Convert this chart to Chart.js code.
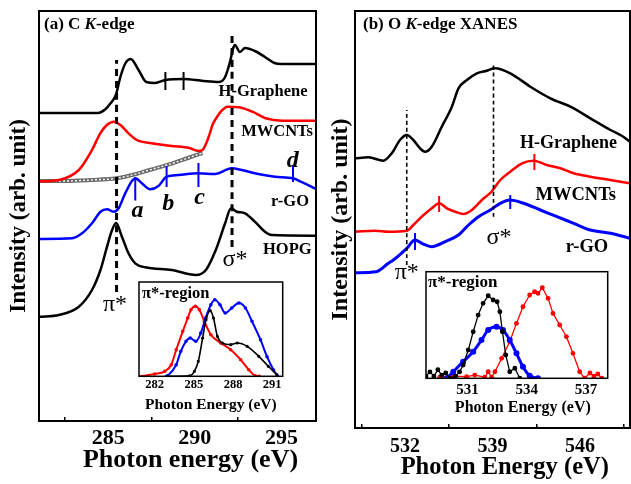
<!DOCTYPE html>
<html>
<head>
<meta charset="utf-8">
<script src="https://cdn.jsdelivr.net/npm/chart.js@4.4.1/dist/chart.umd.min.js"></script>
<style>
  html, body { margin: 0; padding: 0; background: #fff; }
  #wrap { position: relative; width: 631px; height: 484px; overflow: hidden; }
  canvas { position: absolute; }
</style>
</head>
<body>
<div id="wrap">
  <canvas id="chartA" width="322" height="484" style="left:0px;top:0px"></canvas>
  <canvas id="chartB" width="309" height="484" style="left:322px;top:0px"></canvas>
  <canvas id="insetA" width="160" height="140" style="left:130px;top:276px"></canvas>
  <canvas id="insetB" width="195" height="160" style="left:420px;top:262px"></canvas>
</div>
<script>
const SERIF = "'Liberation Serif', 'Times New Roman', serif";
Chart.defaults.font.family = SERIF;
Chart.defaults.color = "#000";

// ---------- (a) C K-edge ----------
const cTicks = [285, 290, 295];
const cMinorTicks = [282.5, 287.5, 292.5];
const cHGrapheneE = [281, 284.4, 284.85, 285.1, 285.44, 285.7, 286.0, 286.3, 286.75, 287.2, 287.7, 288.3, 289.35, 290.5, 291.4, 291.75, 292.03, 292.22, 292.32, 292.6, 292.9, 293.47, 294.05, 294.6, 295.0, 297];
const cHGrapheneI = [30.8, 30.8, 31.2, 31.7, 32.6, 34.4, 35.8, 36.2, 35.1, 33.9, 33.8, 34.1, 34.2, 34.0, 33.9, 34.4, 35.9, 37.3, 37.6, 36.9, 37.3, 37.0, 36.4, 35.8, 35.7, 35.7];
const cMWCNTE = [281, 282.15, 283.3, 284.06, 284.54, 284.92, 285.31, 285.7, 286.17, 286.65, 287.51, 288.66, 289.68, 290.2, 290.44, 290.8, 291.02, 291.36, 291.5, 291.88, 292.55, 293.32, 294.09, 295.04, 297];
const cMWCNTI = [23.95, 24.1, 25.1, 27.1, 28.77, 29.6, 29.93, 29.6, 28.77, 28.1, 27.77, 27.5, 27.3, 27.0, 27.1, 28.4, 29.6, 30.6, 30.93, 31.43, 31.37, 30.93, 30.27, 30.03, 30.03];
const cBackE = [281, 282.5, 284, 285.47, 286.5, 287.38, 288.72, 289.6, 290.44];
const cBackI = [24.0, 24.0, 24.1, 24.27, 24.65, 25.1, 25.77, 26.3, 26.8];
const cRGOE = [281, 282.91, 283.49, 284.06, 284.55, 284.93, 285.31, 285.6, 285.98, 286.56, 286.94, 287.42, 287.9, 288.37, 289.05, 290.21, 291.17, 292.13, 292.71, 293.66, 294.62, 295.67, 296.25, 297];
const cRGOI = [18.2, 18.27, 18.77, 19.77, 20.93, 21.17, 20.93, 21.27, 22.77, 24.27, 23.77, 23.17, 23.5, 24.43, 24.6, 24.77, 24.7, 25.27, 25.1, 24.7, 24.43, 24.27, 23.83, 23.2];
const cHOPGE = [281, 282.15, 283.3, 284.06, 284.55, 284.93, 285.2, 285.45, 285.79, 286.17, 286.56, 287.13, 288.66, 290.06, 290.64, 291.21, 291.75, 292.09, 292.42, 292.9, 293.47, 294.05, 294.43, 297];
const cHOPGI = [10.43, 10.6, 11.43, 13.1, 15.1, 17.43, 19.0, 19.8, 18.43, 16.77, 15.77, 15.37, 15.1, 14.6, 15.1, 17.1, 19.77, 21.27, 20.93, 20.77, 19.93, 18.93, 18.6, 18.53];
const cHGrapheneMarkE = [288.3, 289.35];
const cHGrapheneMarkI = [34.0, 34.0];
const cRGOMarkE = [286.56, 288.37, 290.21, 295.67];
const cRGOMarkI = [23.2, 24.45, 24.6, 24.7];
const cPiStarE = [285.48, 285.48];
const cPiStarI = [12.9, 36.1];
const cSigmaStarE = [292.15, 292.15];
const cSigmaStarI = [17.4, 38.6];

// inset (a): pi*-region
const cInsetTicks = [282, 285, 288, 291];
const cInRedE = [280.8, 282, 282.77, 283.27, 283.65, 284.15, 284.53, 284.78, 285.12, 285.42, 285.8, 286.3, 287.06, 287.82, 288.58, 289.2, 289.71, 290.0];
const cInRedI = [0, 0.024, 0.053, 0.123, 0.282, 0.477, 0.618, 0.706, 0.742, 0.706, 0.583, 0.441, 0.353, 0.282, 0.176, 0.07, 0.006, 0];
const cInBlueE = [282.9, 283.0, 283.65, 284.0, 284.4, 284.72, 285.15, 285.53, 285.9, 286.3, 286.6, 287.0, 287.4, 287.9, 288.45, 288.95, 289.45, 290.1, 290.6, 291.1, 291.4];
const cInBlueI = [0, 0.006, 0.123, 0.265, 0.371, 0.406, 0.371, 0.459, 0.618, 0.759, 0.812, 0.759, 0.671, 0.724, 0.777, 0.724, 0.583, 0.388, 0.208, 0.067, 0.003];
const cInBlackE = [283.0, 284.66, 285.04, 285.34, 285.67, 285.93, 286.25, 286.5, 286.8, 287.18, 287.82, 288.32, 289.08, 289.97, 290.7, 291.35];
const cInBlackI = [0, 0.005, 0.053, 0.159, 0.406, 0.6, 0.696, 0.618, 0.424, 0.353, 0.335, 0.353, 0.318, 0.212, 0.106, 0.017];

// ---------- (b) O K-edge XANES ----------
const oTicks = [532, 539, 546];
const oMinorTicks = [528.5, 535.5, 542.5, 549.5];
const oHGrapheneE = [528, 529.07, 530.27, 530.94, 531.6, 532.14, 532.67, 533.2, 533.6, 534.14, 534.94, 535.75, 536.28, 536.95, 537.75, 538.55, 539.2, 540.42, 542.03, 543.63, 545.23, 546.83, 548.44, 549.37, 550];
const oHGrapheneI = [26.97, 27.07, 26.73, 27.47, 28.8, 29.3, 28.8, 27.97, 27.63, 28.13, 30.13, 32.13, 33.97, 34.8, 35.47, 35.73, 35.97, 35.47, 34.13, 32.97, 32.13, 30.97, 29.8, 29.2, 28.63];
const oMWCNTE = [528, 529.6, 530.67, 532.14, 532.67, 533.34, 534.14, 534.73, 535.35, 536.01, 536.68, 537.35, 538.15, 538.9, 539.62, 540.42, 541.36, 542.29, 543.36, 544.43, 545.5, 546.83, 548.44, 550];
const oMWCNTI = [19.63, 19.73, 19.63, 19.73, 20.3, 21.13, 21.97, 22.47, 21.97, 21.63, 21.4, 21.8, 22.8, 23.6, 24.8, 25.63, 26.47, 26.73, 26.3, 25.97, 25.47, 25.13, 24.8, 24.47];
const oRGOE = [528, 529.7, 530.67, 531.07, 532.14, 532.8, 533.34, 534.14, 535.21, 536.28, 537.08, 537.88, 538.82, 539.62, 540.42, 541.49, 542.83, 544.16, 545.5, 546.83, 548.44, 550];
const oRGOI = [15.53, 15.63, 16.47, 16.8, 17.97, 18.8, 18.47, 18.13, 18.63, 19.3, 20.3, 21.13, 21.8, 22.47, 22.8, 22.47, 21.8, 21.13, 20.47, 19.8, 19.47, 18.97];
const oMWCNTMarkE = [534.73, 542.35];
const oMWCNTMarkI = [22.4, 26.6];
const oRGOMarkE = [532.8, 540.42];
const oRGOMarkI = [18.65, 22.6];
const oPiStarE = [532.14, 532.14];
const oPiStarI = [16.3, 31.8];
const oSigmaStarE = [539.08, 539.08];
const oSigmaStarI = [21.13, 36.47];

// inset (b): pi*-region
const oInsetTicks = [531, 534, 537];
const oInBlackE = [528.9, 529.1, 529.3, 529.5, 529.7, 529.9, 530.1, 530.4, 530.6, 530.78, 531.04, 531.29, 531.54, 531.79, 532.05, 532.3, 532.5, 532.64, 532.77, 532.94, 533.14, 533.4, 533.65];
const oInBlackI = [0.02, 0.06, 0.02, 0.08, 0.03, 0.05, 0, 0.02, 0.06, 0.125, 0.265, 0.437, 0.593, 0.703, 0.774, 0.734, 0.718, 0.624, 0.437, 0.218, 0.062, 0.094, 0];
const oInBlueE = [529.95, 530.28, 530.78, 531.29, 531.71, 532.05, 532.47, 532.8, 533.14, 533.48, 533.81, 534.15, 534.57];
const oInBlueI = [0, 0.062, 0.156, 0.25, 0.359, 0.453, 0.484, 0.453, 0.359, 0.234, 0.109, 0.024, 0];
const oInRedE = [529.6, 530.3, 530.96, 531.37, 531.88, 532.05, 532.22, 532.39, 532.73, 533.14, 533.48, 533.81, 534.15, 534.4, 534.57, 534.79, 535.08, 535.33, 535.67, 536.01, 536.34, 536.68, 536.93, 537.2, 537.4, 537.6, 537.8];
const oInRedI = [0.01, 0.02, 0.015, 0.03, 0.01, 0.062, 0.01, 0.062, 0.187, 0.343, 0.515, 0.671, 0.781, 0.812, 0.797, 0.849, 0.75, 0.609, 0.5, 0.39, 0.234, 0.062, 0, 0.05, 0.02, 0.04, 0];

// ---------- helpers ----------
const pts = (xs, ys) => xs.map((x, i) => ({ x: x, y: ys[i] }));

function curve(xs, ys, color, width, extra) {
  return Object.assign({
    data: pts(xs, ys),
    borderColor: color,
    backgroundColor: color,
    borderWidth: width,
    pointRadius: 0,
    cubicInterpolationMode: "monotone",
    borderJoinStyle: "round",
    fill: false,
  }, extra || {});
}

function marks(xs, ys, color, radius) {
  return {
    data: pts(xs, ys),
    showLine: false,
    pointStyle: "line",
    pointRotation: 90,
    pointRadius: radius,
    pointBorderColor: color,
    pointBorderWidth: 2,
  };
}

// frame round the plot area (and white fill for the insets)
function frameLayer(width, fill) {
  return {
    id: "frameLayer",
    beforeDatasetsDraw(chart) {
      if (!fill) return;
      const a = chart.chartArea;
      chart.ctx.save();
      chart.ctx.fillStyle = "#fff";
      chart.ctx.fillRect(a.left, a.top, a.right - a.left, a.bottom - a.top);
      chart.ctx.restore();
    },
    afterDraw(chart) {
      const a = chart.chartArea;
      const ctx = chart.ctx;
      ctx.save();
      ctx.strokeStyle = "#000";
      ctx.lineWidth = width;
      ctx.strokeRect(a.left, a.top, a.right - a.left, a.bottom - a.top);
      ctx.restore();
    },
  };
}

// labels placed in data units
function textLayer(items) {
  return {
    id: "textLayer",
    afterDatasetsDraw(chart) {
      const ctx = chart.ctx;
      const sx = chart.scales.x, sy = chart.scales.y;
      items.forEach((item) => {
        const px = sx.getPixelForValue(item.x);
        const py = sy.getPixelForValue(item.y);
        ctx.save();
        ctx.fillStyle = "#000";
        ctx.textBaseline = "middle";
        if (item.parts) {
          ctx.textAlign = "left";
          let cx = px;
          item.parts.forEach(([text, font]) => {
            ctx.font = font + " " + SERIF;
            ctx.fillText(text, cx, py);
            cx += ctx.measureText(text).width;
          });
        } else {
          ctx.textAlign = item.align || "center";
          ctx.font = item.font + " " + SERIF;
          ctx.fillText(item.text, px, py);
        }
        ctx.restore();
      });
    },
  };
}

// minor ticks are drawn inward (negative tick length) and carry no label
function xAxis(min, max, ticks, minor, tickFont, tickPad, title, titleFont, titlePad, height) {
  const inward = minor.length ? 4 : 0;
  return {
    type: "linear",
    min: min,
    max: max,
    grid: {
      display: minor.length > 0,
      drawOnChartArea: false,
      drawTicks: minor.length > 0,
      tickLength: -inward,
      lineWidth: 1.5,
      color: (ctx) => (ctx.tick && minor.includes(ctx.tick.value) ? "#000" : "rgba(0,0,0,0)"),
    },
    border: { display: false },
    afterBuildTicks: (scale) => {
      scale.ticks = ticks.concat(minor).sort((p, q) => p - q).map((v) => ({ value: v }));
    },
    afterFit: (scale) => {
      scale.height = height;
      scale.paddingLeft = 0;
      scale.paddingRight = 0;
    },
    ticks: {
      font: { size: tickFont, weight: "bold" },
      padding: tickPad + inward,
      maxRotation: 0,
      autoSkip: false,
      callback: (v) => (ticks.includes(v) ? String(v) : ""),
    },
    title: { display: true, text: title, font: { size: titleFont, weight: "bold" }, padding: { top: 0, bottom: titlePad } },
  };
}

function yAxis(max, width, title, titleFont, titlePad) {
  return {
    type: "linear",
    min: 0,
    max: max,
    grid: { display: false, drawTicks: false },
    border: { display: false },
    ticks: { display: false },
    afterFit: (scale) => { scale.width = width; },
    title: { display: !!title, text: title, font: { size: titleFont, weight: "bold" }, padding: { top: titlePad, bottom: 0 } },
  };
}

const baseOptions = {
  responsive: false,
  animation: false,
  devicePixelRatio: 1,
  plugins: { legend: { display: false }, tooltip: { enabled: false } },
};

// ---------- chart (a) ----------
new Chart(document.getElementById("chartA"), {
  type: "line",
  data: {
    datasets: [
      curve(cPiStarE, cPiStarI, "#000", 3, { borderDash: [7, 5], borderCapStyle: "butt" }),
      curve(cSigmaStarE, cSigmaStarI, "#000", 3, { borderDash: [7, 5], borderCapStyle: "butt" }),
      marks(cHGrapheneMarkE, cHGrapheneMarkI, "#000", 9),
      marks(cRGOMarkE, cRGOMarkI, "#0000ff", [11.5, 10.5, 12, 8]),
      curve(cHGrapheneE, cHGrapheneI, "#000", 2.5),
      curve(cMWCNTE, cMWCNTI, "#ff0000", 2.5),
      curve(cRGOE, cRGOI, "#0000ff", 2.5),
      curve(cBackE, cBackI, "#ffffff", 1.4, { borderDash: [2, 2] }),
      curve(cBackE, cBackI, "#6a6a6a", 4),
      curve(cHOPGE, cHOPGI, "#000", 2.5),
    ],
  },
  options: Object.assign({}, baseOptions, {
    layout: { autoPadding: false, padding: { left: 0, top: 11, right: 6, bottom: 0 } },
    scales: {
      x: xAxis(281, 297, cTicks, cMinorTicks, 22, 4, "    Photon energy (eV)", 26, 8.4, 63),
      y: yAxis(41, 39, "Intensity (arb. unit)", 23, 5),
    },
  }),
  plugins: [
    frameLayer(2, false),
    textLayer([
      { parts: [["(a) C ", "bold 17px"], ["K", "italic bold 17px"], ["-edge", "bold 17px"]], x: 281.29, y: 39.6 },
      { text: "H-Graphene", x: 293.94, y: 32.9, font: "bold 16.5px" },
      { text: "MWCNTs", x: 294.75, y: 28.9, font: "bold 16.5px" },
      { text: "r-GO", x: 295.5, y: 21.9, font: "bold 16.5px" },
      { text: "HOPG", x: 295.34, y: 17.1, font: "bold 16.5px" },
      { text: "π*", x: 285.39, y: 11.6, font: "24px" },
      { text: "σ*", x: 292.32, y: 16.1, font: "24px" },
      { text: "a", x: 286.69, y: 21.0, font: "italic bold 24px" },
      { text: "b", x: 288.47, y: 21.7, font: "italic bold 24px" },
      { text: "c", x: 290.27, y: 22.35, font: "italic bold 24px" },
      { text: "d", x: 295.66, y: 26.0, font: "italic bold 24px" },
    ]),
  ],
});

// ---------- chart (b) ----------
new Chart(document.getElementById("chartB"), {
  type: "line",
  data: {
    datasets: [
      curve(oPiStarE, oPiStarI, "#000", 1.6, { borderDash: [4, 3], borderCapStyle: "butt" }),
      curve(oSigmaStarE, oSigmaStarI, "#000", 1.6, { borderDash: [4, 3], borderCapStyle: "butt" }),
      marks(oMWCNTMarkE, oMWCNTMarkI, "#ff0000", 8),
      marks(oRGOMarkE, oRGOMarkI, "#0000ff", [8.5, 7]),
      curve(oHGrapheneE, oHGrapheneI, "#000", 2.5),
      curve(oMWCNTE, oMWCNTI, "#ff0000", 2.5),
      curve(oRGOE, oRGOI, "#0000ff", 3),
    ],
  },
  options: Object.assign({}, baseOptions, {
    layout: { autoPadding: false, padding: { left: 0, top: 11, right: 1, bottom: 0 } },
    scales: {
      x: xAxis(528, 550, oTicks, oMinorTicks, 20, 7, "    Photon Energy (eV)", 24.5, 1.3, 56),
      y: yAxis(41.7, 33, "Intensity (arb. unit)", 24, 4),
    },
  }),
  plugins: [
    frameLayer(2, false),
    textLayer([
      { parts: [["(b) O ", "bold 17px"], ["K", "italic bold 17px"], ["-edge XANES", "bold 17px"]], x: 528.64, y: 40.3 },
      { text: "H-Graphene", x: 545.08, y: 28.45, font: "bold 18px" },
      { text: "MWCNTs", x: 545.66, y: 23.3, font: "bold 18.5px" },
      { text: "r-GO", x: 546.56, y: 18.1, font: "bold 18.5px" },
      { text: "σ*", x: 539.52, y: 19.0, font: "24px" },
      { text: "π*", x: 532.14, y: 15.5, font: "24px" },
    ]),
  ],
});

// ---------- inset (a) ----------
new Chart(document.getElementById("insetA"), {
  type: "line",
  data: {
    datasets: [
      curve(cInBlackE, cInBlackI, "#000", 1.6, { pointRadius: 0.8 }),
      curve(cInBlueE, cInBlueI, "#0000ff", 2, { pointRadius: 0.8 }),
      curve(cInRedE, cInRedI, "#ff0000", 2, { pointRadius: 0.8 }),
    ],
  },
  options: Object.assign({}, baseOptions, {
    layout: { autoPadding: false, padding: { left: 9, top: 6, right: 7.3, bottom: 0 } },
    scales: {
      x: xAxis(280.8, 291.8, cInsetTicks, [], 12.5, 1.2, "Photon Energy (eV)", 15.5, 2, 39.7),
      y: Object.assign(yAxis(1, 0, "", 10, 0), { display: false }),
    },
  }),
  plugins: [
    frameLayer(1.5, true),
    textLayer([
      { text: "π*-region", x: 281.03, y: 0.875, font: "bold 16.5px", align: "left" },
    ]),
  ],
});

// ---------- inset (b) ----------
new Chart(document.getElementById("insetB"), {
  type: "line",
  data: {
    datasets: [
      curve(oInBlackE, oInBlackI, "#000", 1.3, { pointRadius: 1.8, cubicInterpolationMode: "default", tension: 0 }),
      curve(oInBlueE, oInBlueI, "#0000ff", 3, { pointRadius: 1.5 }),
      curve(oInRedE, oInRedI, "#ff0000", 1.3, { pointRadius: 1.8, cubicInterpolationMode: "default", tension: 0 }),
    ],
  },
  options: Object.assign({}, baseOptions, {
    layout: { autoPadding: false, padding: { left: 6, top: 9.7, right: 7.3, bottom: 0 } },
    scales: {
      x: xAxis(528.9, 538.1, oInsetTicks, [], 15, 2.4, "   Photon Energy (eV)", 16, 4.4, 43.7),
      y: Object.assign(yAxis(1, 0, "", 10, 0), { display: false }),
    },
  }),
  plugins: [
    frameLayer(1.5, true),
    textLayer([
      { text: "π*-region", x: 529.0, y: 0.898, font: "bold 17px", align: "left" },
    ]),
  ],
});
</script>
</body>
</html>
